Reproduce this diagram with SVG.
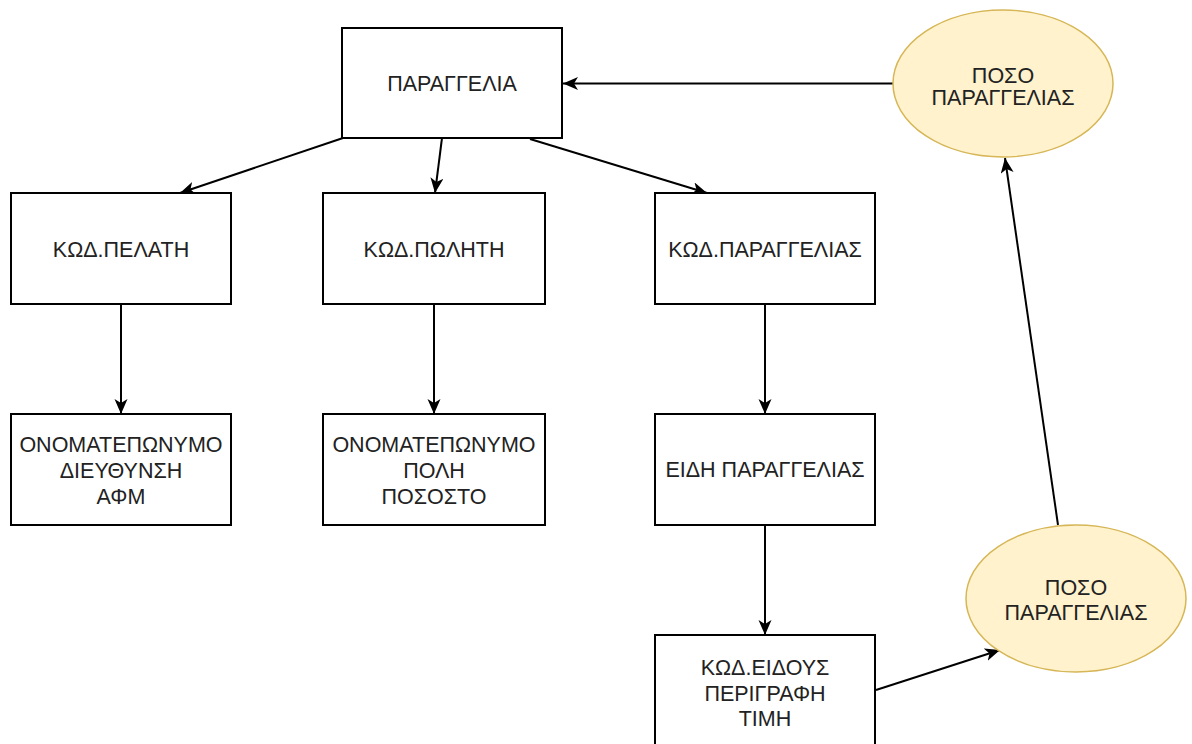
<svg xmlns="http://www.w3.org/2000/svg" width="1192" height="744" viewBox="0 0 1192 744">
  <style>
    .box { fill: #ffffff; stroke: #000000; stroke-width: 2; }
    .ell { fill: #fff2cc; stroke: #d6b656; stroke-width: 1.5; }
    .lbl { font-family: "Liberation Sans", Arial, sans-serif; font-size: 21.5px; fill: #222222; text-anchor: middle; }
    .edge { fill: none; stroke: #000000; stroke-width: 2; marker-end: url(#arrow); }
  </style>
  <defs>
    <marker id="arrow" markerUnits="userSpaceOnUse" markerWidth="16" markerHeight="14" refX="15" refY="6.5" orient="auto">
      <path d="M0,0 L15,6.5 L0,13 L4,6.5 Z" fill="#000000"/>
    </marker>
  </defs>
  <rect width="1192" height="744" fill="#ffffff"/>

  <g id="connectors">
    <line class="edge" x1="893" y1="83.5" x2="563" y2="83.5"/>
    <line class="edge" x1="343" y1="138" x2="180" y2="193"/>
    <line class="edge" x1="442" y1="138" x2="435" y2="193"/>
    <line class="edge" x1="530" y1="139" x2="707" y2="193"/>
    <line class="edge" x1="121" y1="304" x2="121" y2="414"/>
    <line class="edge" x1="434" y1="304" x2="434" y2="414"/>
    <line class="edge" x1="765" y1="304" x2="765" y2="414"/>
    <line class="edge" x1="765" y1="525" x2="765" y2="635"/>
    <line class="edge" x1="876" y1="690" x2="1000" y2="650"/>
    <line class="edge" x1="1058" y1="525" x2="1005" y2="158"/>
  </g>

  <g id="n-paraggelia">
    <rect class="box" x="342" y="28" width="220" height="110"/>
    <text class="lbl" x="452" y="91">ΠΑΡΑΓΓΕΛΙΑ</text>
  </g>

  <g id="n-poso-top">
    <ellipse class="ell" cx="1003" cy="83.5" rx="110" ry="73.5"/>
    <text class="lbl" x="1003" y="83">ΠΟΣΟ</text>
    <text class="lbl" x="1003" y="105">ΠΑΡΑΓΓΕΛΙΑΣ</text>
  </g>

  <g id="n-kod-pelati">
    <rect class="box" x="11" y="193" width="220" height="111"/>
    <text class="lbl" x="121" y="257">ΚΩΔ.ΠΕΛΑΤΗ</text>
  </g>

  <g id="n-kod-politi">
    <rect class="box" x="323" y="193" width="222" height="111"/>
    <text class="lbl" x="434" y="257">ΚΩΔ.ΠΩΛΗΤΗ</text>
  </g>

  <g id="n-kod-paraggelias">
    <rect class="box" x="655" y="193" width="220" height="111"/>
    <text class="lbl" x="765" y="257">ΚΩΔ.ΠΑΡΑΓΓΕΛΙΑΣ</text>
  </g>

  <g id="n-pelatis-info">
    <rect class="box" x="11" y="414" width="220" height="111"/>
    <text class="lbl" x="121" y="452">ΟΝΟΜΑΤΕΠΩΝΥΜΟ</text>
    <text class="lbl" x="121" y="478">ΔΙΕΥΘΥΝΣΗ</text>
    <text class="lbl" x="121" y="504">ΑΦΜ</text>
  </g>

  <g id="n-polities-info">
    <rect class="box" x="323" y="414" width="222" height="111"/>
    <text class="lbl" x="434" y="452">ΟΝΟΜΑΤΕΠΩΝΥΜΟ</text>
    <text class="lbl" x="434" y="478">ΠΟΛΗ</text>
    <text class="lbl" x="434" y="504">ΠΟΣΟΣΤΟ</text>
  </g>

  <g id="n-eidi">
    <rect class="box" x="655" y="414" width="220" height="111"/>
    <text class="lbl" x="765" y="477">ΕΙΔΗ ΠΑΡΑΓΓΕΛΙΑΣ</text>
  </g>

  <g id="n-kod-eidous">
    <rect class="box" x="655" y="635" width="220" height="111"/>
    <text class="lbl" x="765" y="675">ΚΩΔ.ΕΙΔΟΥΣ</text>
    <text class="lbl" x="765" y="701">ΠΕΡΙΓΡΑΦΗ</text>
    <text class="lbl" x="765" y="726">ΤΙΜΗ</text>
  </g>

  <g id="n-poso-bottom">
    <ellipse class="ell" cx="1076" cy="598.5" rx="110" ry="73.5"/>
    <text class="lbl" x="1076" y="595">ΠΟΣΟ</text>
    <text class="lbl" x="1076" y="620">ΠΑΡΑΓΓΕΛΙΑΣ</text>
  </g>
</svg>
